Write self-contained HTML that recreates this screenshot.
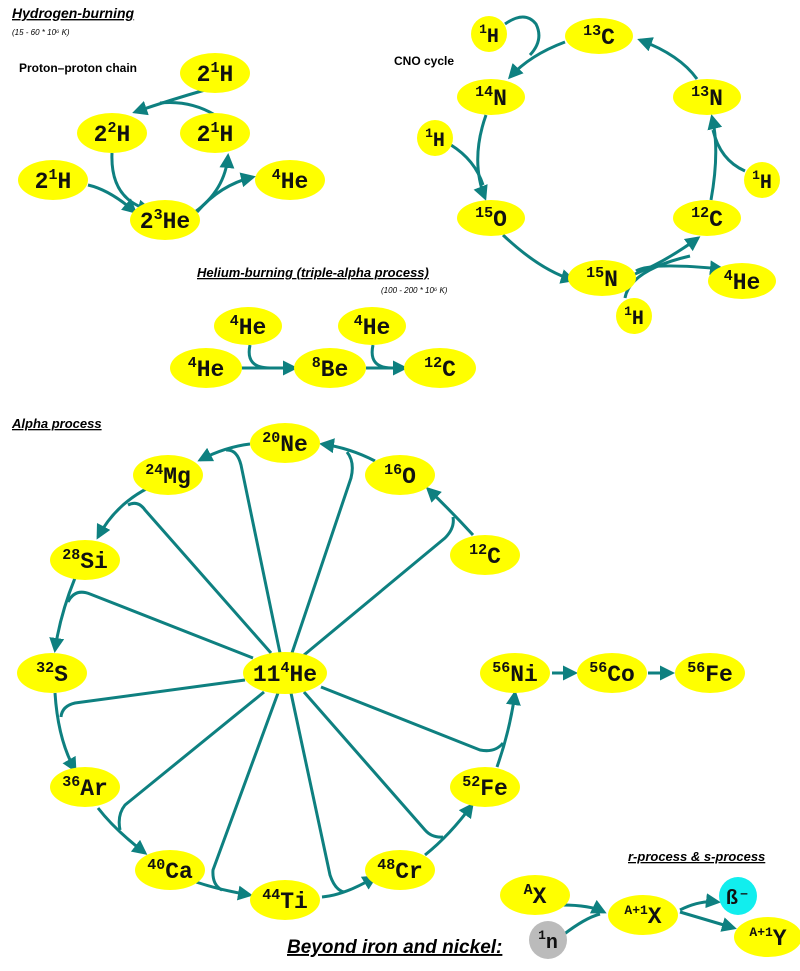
<!DOCTYPE html>
<html><head><meta charset="utf-8"><style>
body{margin:0;background:#fff;width:800px;height:971px;overflow:hidden}
svg{display:block}
.t{font-family:"Liberation Sans",sans-serif;font-weight:bold;font-style:italic;text-decoration:underline}
.n{font-family:"Liberation Mono",monospace;font-weight:bold;fill:#111}
</style></head><body>
<svg id="s" width="800" height="971" viewBox="0 0 800 971" xmlns="http://www.w3.org/2000/svg">
<defs><marker id="a" viewBox="0 0 10 10" refX="8" refY="5" markerWidth="5" markerHeight="5" orient="auto"><path d="M0,0L10,5L0,10z" fill="#0e8080"/></marker></defs>
<g id="edges" fill="none" stroke="#0e8080" stroke-width="3" stroke-linejoin="round"></g>
<g id="nodes"></g>
<text class="t" x="12" y="18" font-size="14">Hydrogen-burning</text>
<text x="12" y="35" font-size="8" font-style="italic" font-family="Liberation Sans,sans-serif">(15 - 60 * 10⁶ K)</text>
<text x="19" y="72" font-size="12" font-weight="bold" font-family="Liberation Sans,sans-serif">Proton–proton chain</text>
<text x="394" y="65" font-size="12" font-weight="bold" font-family="Liberation Sans,sans-serif">CNO cycle</text>
<text class="t" x="197" y="277" font-size="13">Helium-burning (triple-alpha process)</text>
<text x="381" y="293" font-size="8" font-style="italic" font-family="Liberation Sans,sans-serif">(100 - 200 * 10⁶ K)</text>
<text class="t" x="12" y="428" font-size="13">Alpha process</text>
<text class="t" x="628" y="861" font-size="13">r-process &amp; s-process</text>
<text class="t" x="287" y="953" font-size="19">Beyond iron and nickel:</text>
</svg>
<script>
const NS="http://www.w3.org/2000/svg";
const nodes=[
["pp-h1-top",215,73,35,20,"2","1","H","#ff0"],["pp-h2",112,133,35,20,"2","2","H","#ff0"],["pp-h1-mid",215,133,35,20,"2","1","H","#ff0"],
["pp-h1-left",53,180,35,20,"2","1","H","#ff0"],["pp-he3",165,220,35,20,"2","3","He","#ff0"],["pp-he4",290,180,35,20,"","4","He","#ff0"],
["cno-h-top",489,34,18,18,"","1","H","#ff0"],["cno-c13",599,36,34,18,"","13","C","#ff0"],["cno-n14",491,97,34,18,"","14","N","#ff0"],
["cno-n13",707,97,34,18,"","13","N","#ff0"],["cno-h-left",435,138,18,18,"","1","H","#ff0"],["cno-o15",491,218,34,18,"","15","O","#ff0"],
["cno-c12",707,218,34,18,"","12","C","#ff0"],["cno-h-right",762,180,18,18,"","1","H","#ff0"],["cno-n15",602,278,34,18,"","15","N","#ff0"],
["cno-he4",742,281,34,18,"","4","He","#ff0"],["cno-h-bottom",634,316,18,18,"","1","H","#ff0"],
["he-he4-a",206,368,36,20,"","4","He","#ff0"],["he-he4-b",248,326,34,19,"","4","He","#ff0"],["he-be8",330,368,36,20,"","8","Be","#ff0"],
["he-he4-c",372,326,34,19,"","4","He","#ff0"],["he-c12",440,368,36,20,"","12","C","#ff0"],
["alpha-ne20",285,443,35,20,"","20","Ne","#ff0"],["alpha-mg24",168,475,35,20,"","24","Mg","#ff0"],["alpha-o16",400,475,35,20,"","16","O","#ff0"],
["alpha-si28",85,560,35,20,"","28","Si","#ff0"],["alpha-c12",485,555,35,20,"","12","C","#ff0"],["alpha-s32",52,673,35,20,"","32","S","#ff0"],
["alpha-he4-hub",285,673,42,21,"11","4","He","#ff0"],["alpha-ni56",515,673,35,20,"","56","Ni","#ff0"],["alpha-co56",612,673,35,20,"","56","Co","#ff0"],
["alpha-fe56",710,673,35,20,"","56","Fe","#ff0"],["alpha-ar36",85,787,35,20,"","36","Ar","#ff0"],["alpha-fe52",485,787,35,20,"","52","Fe","#ff0"],
["alpha-ca40",170,870,35,20,"","40","Ca","#ff0"],["alpha-cr48",400,870,35,20,"","48","Cr","#ff0"],["alpha-ti44",285,900,35,20,"","44","Ti","#ff0"],
["rs-ax",535,895,35,20,"","A","X","#ff0"],["rs-neutron",548,940,19,19,"","1","n","#bbb"],["rs-a1x",643,915,35,20,"","A+1","X","#ff0"],
["rs-beta",738,896,19,19,"","","ß⁻","#1ee"],["rs-a1y",768,937,34,20,"","A+1","Y","#ff0"]
];
const arrowPaths=[
"M205,90 Q170,100 135,112","M112,153 Q110,200 150,210","M88,185 Q110,190 135,212",
"M195,212 Q225,190 228,156","M197,212 Q220,185 253,177",
"M565,42 Q530,55 510,77","M486,115 Q470,160 485,198",
"M697,79 Q680,55 640,40","M711,200 Q720,150 712,117","M503,235 Q540,270 573,280",
"M635,274 Q665,262 698,238","M636,271 Q650,262 722,269",
"M240,368 L295,368","M366,368 L405,368",
"M473,535 Q450,510 428,489","M375,461 Q350,448 322,444","M250,444 Q225,447 200,460","M148,488 Q115,505 98,537",
"M75,578 Q60,615 55,650","M55,693 Q58,740 75,770","M98,808 Q115,830 145,853","M196,882 Q220,890 250,895","M322,897 Q345,895 375,877",
"M425,855 Q450,835 472,805","M497,767 Q510,730 515,693","M552,673 L575,673","M648,673 L672,673",
"M562,905 Q590,905 604,912","M680,910 Q700,900 718,902","M680,912 Q700,918 734,928"
];
const plainPaths=[
"M215,115 Q190,100 160,103",
"M505,24 Q525,10 536,24 Q544,40 530,55","M451,145 Q475,160 483,185","M745,171 Q720,160 713,130",
"M625,298 Q630,270 690,256",
"M250,345 Q245,368 270,368","M373,345 Q368,368 392,368","M563,935 Q585,918 600,914",
"M292,653 L351,478 Q355,462 347,452","M280,653 L241,465 Q237,449 226,450","M271,653 L145,510 Q138,500 128,505",
"M253,658 L90,594 Q75,588 68,602","M304,655 L445,538 Q455,528 453,517","M245,680 L75,703 Q62,706 61,717",
"M264,692 L125,805 Q117,815 120,830","M278,693 L213,870 Q212,885 222,890","M291,693 L330,875 Q335,890 344,892",
"M304,692 L425,830 Q432,838 443,837","M321,687 L480,750 Q495,753 503,743"
];
const eg=document.getElementById('edges'),ng=document.getElementById('nodes');
arrowPaths.forEach(d=>{const p=document.createElementNS(NS,'path');p.setAttribute('d',d);p.setAttribute('marker-end','url(#a)');


eg.appendChild(p);});
plainPaths.forEach(d=>{const p=document.createElementNS(NS,'path');p.setAttribute('d',d);


eg.appendChild(p);});
nodes.forEach(n=>{const[id,x,y,rx,ry,c,sup,el,col]=n;const g=document.createElementNS(NS,'g');


const e=document.createElementNS(NS,'ellipse');e.setAttribute('cx',x);e.setAttribute('cy',y);e.setAttribute('rx',rx);e.setAttribute('ry',ry);e.setAttribute('fill',col);g.appendChild(e);
const t=document.createElementNS(NS,'text');t.setAttribute('class','n');t.setAttribute('x',x);t.setAttribute('y',y+8);t.setAttribute('text-anchor','middle');
const big=rx>=30;t.setAttribute('font-size',big?23:20);
const ss=big?(sup.length>2?13:15):13;
let h='';if(c)h+=`<tspan>${c}</tspan>`;if(sup)h+=`<tspan font-size="${ss}" dy="-9">${sup}</tspan>`;h+=`<tspan ${sup?'dy="9"':''}>${el}</tspan>`;t.innerHTML=h;g.appendChild(t);ng.appendChild(g);});
</script>
</body></html>
